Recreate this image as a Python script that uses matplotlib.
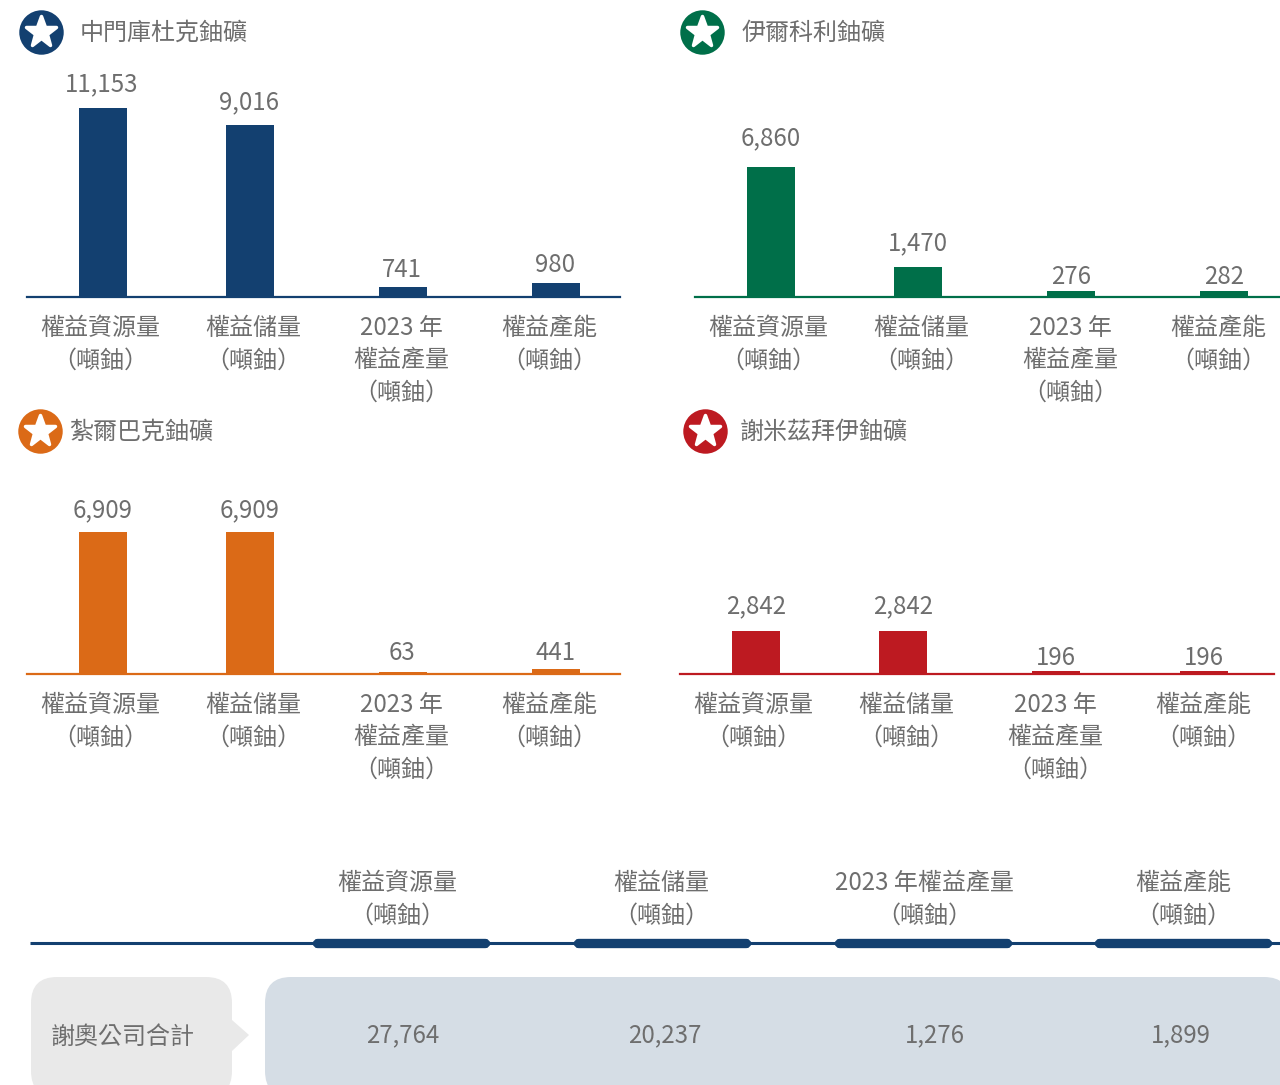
import matplotlib
matplotlib.use('Agg')
from matplotlib import pyplot as plt
from matplotlib.markers import MarkerStyle
from matplotlib.patches import FancyBboxPatch, Polygon

plt.rcParams['font.family'] = ['Noto Sans CJK TC', 'DejaVu Sans']

W, H = 1280, 1085
GREY = '#6e6e6e'
FS = 17.3
LS = 1.32

names = ['中門庫杜克鈾礦', '伊爾科利鈾礦', '紮爾巴克鈾礦', '謝米茲拜伊鈾礦']
colors = ['#134070', '#006f49', '#db6a17', '#bd1a21']

# values printed on the bars
menkuduk = [11153, 9016, 741, 980]
yilkol = [6860, 1470, 276, 282]
zarbak = [6909, 6909, 63, 441]
semizbai = [2842, 2842, 196, 196]

# the reference's bars are not quite in proportion to their labels,
# so the drawn lengths are read off the picture separately
menkuduk_bars = [11153, 10150, 590, 826]
yilkol_bars = [6860, 1584, 317, 317]
zarbak_bars = [6909, 6909, 100, 245]
semizbai_bars = [2842, 2842, 196, 196]

bar_labels = ['權益資源量\n（噸鈾）', '權益儲量\n（噸鈾）', '2023 年\n權益產量\n（噸鈾）', '權益產能\n（噸鈾）']

table_heads = ['權益資源量\n（噸鈾）', '權益儲量\n（噸鈾）', '2023 年權益產量\n（噸鈾）', '權益產能\n（噸鈾）']
table_name = '謝奧公司合計'
table_totals = [27764, 20237, 1276, 1899]

panels = [
    # values, bars, axis x0, x1, baseline y, pixels for the first bar, bar x, label x,
    # gap of the value labels, their x shift, icon xy, title x
    (menkuduk, menkuduk_bars, 27, 620, 297, 189, [103, 250, 403, 556], [100, 253, 401, 549],
     [11, 10, 4, 5], -1.5, (41, 32), 79.5),
    (yilkol, yilkol_bars, 695, 1280, 297, 130, [771, 918, 1071, 1224], [768, 921, 1070, 1218],
     [16, 11, 1, 1], 0, (702, 32), 742),
    (zarbak, zarbak_bars, 27, 620, 674, 142, [103, 250, 403, 556], [100, 253, 401, 549],
     [9, 9, 6, 3], -0.5, (40, 431), 69.5),
    (semizbai, semizbai_bars, 680, 1274, 674, 43, [756, 903, 1056, 1204], [753, 906, 1055, 1203],
     [12, 12, 0, 0], 0, (705, 431), 739.5),
]

fig = plt.figure(figsize=(W / 100, H / 100), dpi=100)

# overlay in pixel coordinates for the text and the decoration
bg = fig.add_axes([0, 0, 1, 1])
bg.set_xlim(0, W)
bg.set_ylim(H, 0)
bg.axis('off')

star = MarkerStyle('*', joinstyle='round')

for i, p in enumerate(panels):
    values, bars, x0, x1, base, px, bar_x, label_x, gaps, dx, icon, title_x = p
    col = colors[i]

    # axes spans one pixel per x unit, y scaled so the first bar has its height
    ax = fig.add_axes([x0 / W, 1 - base / H, (x1 - x0) / W, px * 1.2 / H])
    ax.patch.set_alpha(0)
    ax.set_xlim(x0, x1)
    ax.set_ylim(0, bars[0] * 1.2)
    ax.bar(bar_x, bars, width=48, color=col)
    for s in ['top', 'left', 'right']:
        ax.spines[s].set_visible(False)
    ax.spines['bottom'].set_color(col)
    ax.spines['bottom'].set_linewidth(1.6)
    ax.set_xticks([])
    ax.set_yticks([])
    for x, b, v, g in zip(bar_x, bars, values, gaps):
        ax.annotate(f'{v:,}', (x, b), xytext=(dx, g), textcoords='offset pixels',
                    ha='center', va='bottom', fontsize=FS, color=GREY, clip_on=False)

    for x, lab in zip(label_x, bar_labels):
        bg.text(x, base + 18, lab, ha='center', va='top', fontsize=FS, color=GREY, linespacing=LS)

    bg.plot(icon[0], icon[1], 'o', ms=32, color=col, mew=0)
    bg.plot(icon[0], icon[1] - 0.5, marker=star, ms=23, color='white', mew=2.5, mec='white')
    bg.text(title_x, icon[1] + 1, names[i], va='center', fontsize=FS, color=GREY)

# table at the bottom
head_x = [397, 661, 924, 1183]
pill_x = [313, 574, 835, 1095]
total_x = [403, 665, 935, 1181]

bg.plot([30, W], [943, 943], color=colors[0], lw=2.2, solid_capstyle='butt')
for x, x2, lab in zip(pill_x, head_x, table_heads):
    bg.add_patch(FancyBboxPatch((x + 4, 943), 169, 1, boxstyle='round,pad=0,rounding_size=1',
                                fc=colors[0], ec=colors[0], lw=6))
    bg.text(x2, 870, lab, ha='center', va='top', fontsize=FS, color=GREY, linespacing=LS)

bg.add_patch(FancyBboxPatch((31, 977), 201, 120, boxstyle='round,pad=0,rounding_size=26', fc='#e9e9e9', ec='none'))
bg.add_patch(Polygon([(232, 1020), (249, 1035), (232, 1051)], fc='#e9e9e9', ec='none'))
bg.add_patch(FancyBboxPatch((265, 977), 1025, 120, boxstyle='round,pad=0,rounding_size=26', fc='#d5dde5', ec='none'))
bg.text(51, 1037, table_name, va='center', fontsize=FS, color=GREY)
for x, v in zip(total_x, table_totals):
    bg.text(x, 1035, f'{v:,}', ha='center', va='center', fontsize=FS, color=GREY)

fig.savefig('out.png', dpi=100)
